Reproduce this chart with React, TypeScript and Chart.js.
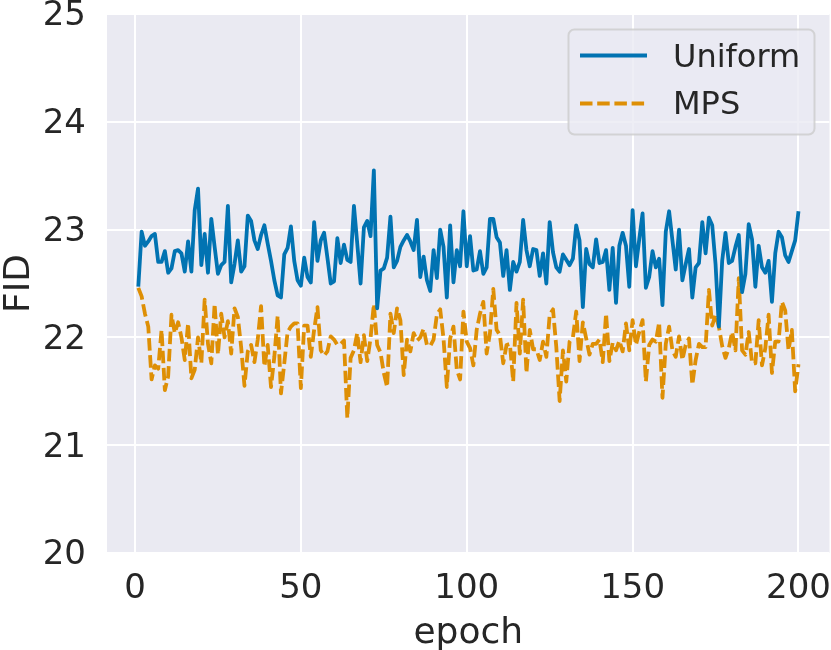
import { useEffect, useRef } from 'react';
import Chart from 'chart.js/auto';

const FONT = '"DejaVu Sans"';
const TEXT = '#262626';
const BLUE = '#0173B2';
const ORANGE = '#DE8F05';
const DASH = [12.5, 4.7];
const LINE_WIDTH = 3.8;

const uniformFid = [
  22.47, 22.98, 22.85, 22.89, 22.94, 22.96, 22.70, 22.70, 22.80, 22.60,
  22.64, 22.80, 22.81, 22.78, 22.61, 22.89, 22.61, 23.18, 23.38, 22.67,
  22.96, 22.60, 23.10, 22.84, 22.59, 22.67, 22.70, 23.22, 22.51, 22.68,
  22.90, 22.61, 22.66, 23.13, 23.08, 22.90, 22.82, 22.95, 23.04, 22.87,
  22.71, 22.53, 22.39, 22.37, 22.77, 22.83, 23.03, 22.71, 22.53, 22.48,
  22.74, 22.56, 22.51, 23.07, 22.71, 22.90, 22.97, 22.74, 22.50, 22.52,
  22.92, 22.69, 22.86, 22.72, 22.70, 23.22, 22.87, 22.50, 23.02, 23.08,
  22.94, 23.55, 22.27, 22.62, 22.64, 22.74, 23.12, 22.65, 22.71, 22.84,
  22.90, 22.95, 22.89, 22.81, 23.09, 22.56, 22.75, 22.53, 22.43, 22.81,
  22.55, 23.00, 22.84, 22.37, 23.04, 22.51, 22.81, 22.66, 23.17, 22.66,
  22.94, 22.62, 22.63, 22.80, 22.59, 22.65, 23.10, 23.10, 22.93, 22.88,
  22.57, 22.81, 22.44, 22.70, 22.61, 22.70, 23.09, 22.81, 22.66, 22.82,
  22.81, 22.57, 22.78, 22.50, 23.07, 22.79, 22.65, 22.61, 22.77, 22.72,
  22.67, 22.73, 23.04, 22.90, 22.28, 22.82, 22.68, 22.65, 22.91, 22.69,
  22.70, 22.81, 22.44, 22.83, 22.32, 22.85, 22.97, 22.85, 22.47, 23.18,
  22.66, 22.91, 23.15, 22.46, 22.56, 22.80, 22.65, 22.73, 22.30, 22.98,
  23.17, 22.90, 22.63, 23.00, 22.53, 22.68, 22.82, 22.37, 22.65, 22.69,
  23.07, 22.78, 23.11, 23.04, 22.68, 22.10, 22.71, 22.97, 22.69, 22.71,
  22.84, 22.95, 22.42, 22.59, 23.05, 22.91, 22.47, 22.85, 22.65, 22.60,
  22.71, 22.33, 22.78, 22.98, 22.93, 22.76, 22.70, 22.80, 22.90, 23.17,
];

const mpsFid = [
  22.46, 22.38, 22.22, 22.10, 21.61, 21.74, 21.71, 22.07, 21.51, 21.64,
  22.21, 22.04, 22.14, 22.00, 21.79, 22.13, 21.62, 21.70, 22.00, 21.76,
  22.35, 21.94, 21.76, 22.31, 21.84, 22.22, 22.00, 22.15, 21.85, 22.27,
  22.19, 21.91, 21.55, 21.87, 21.93, 21.77, 21.98, 22.29, 21.73, 21.93,
  21.54, 21.82, 22.20, 21.48, 21.76, 22.05, 22.10, 22.13, 22.13, 21.53,
  22.11, 22.11, 21.82, 22.07, 22.28, 21.88, 21.83, 21.87, 22.01, 21.98,
  21.93, 21.94, 21.97, 21.25, 21.81, 21.88, 22.04, 21.77, 22.02, 21.78,
  21.99, 22.31, 21.93, 21.86, 21.67, 21.54, 22.22, 22.04, 22.27, 22.16,
  21.65, 21.98, 21.87, 22.04, 21.97, 22.00, 22.08, 21.93, 21.92, 21.98,
  22.21, 22.26, 21.99, 21.54, 21.99, 22.10, 21.70, 21.61, 22.24, 21.96,
  21.90, 21.74, 22.07, 22.22, 22.33, 21.85, 22.04, 22.45, 22.07, 22.02,
  21.76, 21.93, 21.94, 21.59, 22.32, 21.85, 22.35, 21.67, 22.07, 21.89,
  21.89, 21.79, 21.96, 21.82, 22.21, 22.26, 21.91, 21.41, 21.88, 21.59,
  21.96, 22.00, 22.24, 21.78, 22.14, 21.99, 21.84, 21.94, 21.94, 21.98,
  21.77, 22.22, 21.78, 21.95, 21.88, 21.97, 21.87, 22.13, 21.88, 22.16,
  21.93, 22.05, 22.16, 21.59, 21.93, 21.98, 21.96, 22.14, 21.44, 21.94,
  22.10, 21.88, 21.82, 22.01, 21.79, 21.93, 21.99, 21.56, 21.79, 21.94,
  21.91, 21.91, 22.44, 22.11, 22.21, 22.10, 21.92, 21.81, 21.90, 22.05,
  21.88, 22.55, 21.88, 21.84, 22.05, 21.76, 21.76, 22.16, 21.74, 21.90,
  22.21, 21.67, 21.96, 21.96, 22.33, 22.25, 21.88, 22.07, 21.50, 21.75,
];

const epochs = uniformFid.map((_, i) => i + 1);

// plot background, behind the grid
const plotBackground = {
  id: 'plotBackground',
  beforeDraw(chart: Chart) {
    const { ctx, chartArea: a } = chart;
    ctx.save();
    ctx.fillStyle = '#EAEAF2';
    ctx.fillRect(a.left, a.top, a.right - a.left, a.bottom - a.top);
    ctx.restore();
  },
};

// seaborn style legend box, the built-in one can't sit inside the axes like this
const insideLegend = {
  id: 'insideLegend',
  afterDraw(chart: Chart) {
    const { ctx } = chart;
    ctx.save();
    ctx.beginPath();
    ctx.roundRect(568.5, 29.5, 246, 105, 6);
    ctx.fillStyle = 'rgba(234,234,242,0.8)';
    ctx.fill();
    ctx.strokeStyle = 'rgba(204,204,204,0.8)';
    ctx.lineWidth = 2;
    ctx.stroke();

    const rows = [
      { y: 55.5, base: 67 },
      { y: 103.5, base: 113.5 },
    ];
    chart.data.datasets.forEach((ds: any, i: number) => {
      ctx.beginPath();
      ctx.moveTo(580, rows[i].y);
      ctx.lineTo(647, rows[i].y);
      ctx.strokeStyle = ds.borderColor;
      ctx.lineWidth = LINE_WIDTH;
      ctx.setLineDash(ds.borderDash || []);
      ctx.stroke();
      ctx.setLineDash([]);
      ctx.fillStyle = TEXT;
      ctx.font = `32px ${FONT}`;
      ctx.textBaseline = 'alphabetic';
      ctx.fillText(ds.label, 673, rows[i].base);
    });
    ctx.restore();
  },
};

export default function App() {
  const canvasRef = useRef<HTMLCanvasElement>(null);

  useEffect(() => {
    if (!canvasRef.current) return;

    const chart = new Chart(canvasRef.current, {
      type: 'line',
      data: {
        datasets: [
          {
            label: 'Uniform',
            data: uniformFid.map((y, i) => ({ x: epochs[i], y })),
            borderColor: BLUE,
            borderWidth: LINE_WIDTH,
            pointRadius: 0,
            tension: 0,
            borderJoinStyle: 'round',
          },
          {
            label: 'MPS',
            data: mpsFid.map((y, i) => ({ x: epochs[i], y })),
            borderColor: ORANGE,
            borderWidth: LINE_WIDTH,
            borderDash: DASH,
            pointRadius: 0,
            tension: 0,
            borderJoinStyle: 'round',
          },
        ],
      },
      options: {
        responsive: false,
        animation: false,
        devicePixelRatio: 1,
        layout: { padding: { top: 14, right: 1.5, left: 0, bottom: 0 } },
        plugins: {
          legend: { display: false },
          tooltip: { enabled: false },
        },
        scales: {
          x: {
            type: 'linear',
            min: -8.44,
            max: 209.35,
            border: { display: false },
            grid: { color: '#ffffff', lineWidth: 2, drawTicks: false },
            ticks: {
              stepSize: 50,
              includeBounds: false,
              maxRotation: 0,
              color: TEXT,
              padding: 16,
              font: { family: FONT, size: 34 },
            },
            title: {
              display: true,
              text: 'epoch',
              color: TEXT,
              padding: { top: 0, bottom: -5 },
              font: { family: FONT, size: 36 },
            },
            afterFit: (scale: any) => {
              scale.height = 97;
              scale.paddingLeft = 0;
              scale.paddingRight = 0;
            },
          },
          y: {
            type: 'linear',
            min: 20,
            max: 25,
            border: { display: false },
            grid: { color: '#ffffff', lineWidth: 2, drawTicks: false },
            ticks: {
              stepSize: 1,
              color: TEXT,
              padding: 21,
              labelOffset: 2.5,
              font: { family: FONT, size: 34 },
            },
            title: {
              display: true,
              text: 'FID',
              color: TEXT,
              padding: { top: -2, bottom: 0 },
              font: { family: FONT, size: 36 },
            },
            afterFit: (scale: any) => {
              scale.width = 107;
              scale.paddingTop = 0;
              scale.paddingBottom = 0;
            },
          },
        },
      },
      plugins: [plotBackground, insideLegend],
    });

    return () => chart.destroy();
  }, []);

  return (
    <div style={{ position: 'fixed', left: 0, top: 0, width: 831, height: 650, background: '#ffffff' }}>
      <canvas ref={canvasRef} width={831} height={650} style={{ display: 'block' }} />
    </div>
  );
}
